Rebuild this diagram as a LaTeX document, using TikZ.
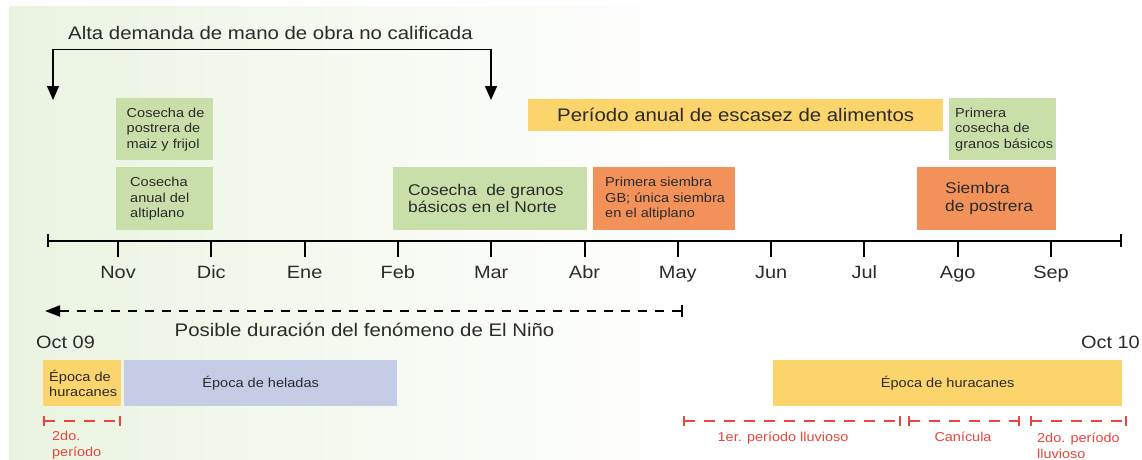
\documentclass[tikz,border=0pt]{standalone}
\usepackage{fontspec}
\setmainfont[FakeStretch=1.12]{Liberation Sans}
\usetikzlibrary{arrows.meta,positioning}

\definecolor{bggreen}{HTML}{EAF3E0}
\definecolor{cosgreen}{HTML}{C9DFAA}
\definecolor{siemorange}{HTML}{F2925A}
\definecolor{epyellow}{HTML}{FBD46C}
\definecolor{helblue}{HTML}{C5CDE6}
\definecolor{txtgray}{HTML}{2B2B2B}
\definecolor{rainred}{HTML}{E8453C}

\begin{document}
\begin{tikzpicture}[
  x=1pt, y=-1pt,
  every node/.style={inner sep=0pt, text=txtgray},
  block/.style 2 args={anchor=north west, minimum width=#1, minimum height=#2},
  boxtext/.style={anchor=west, align=left, font=\fontsize{13}{15.5}\selectfont},
  bigtext/.style={anchor=west, align=left, font=\fontsize{15.5}{17.5}\selectfont},
  bigfont/.style={font=\fontsize{18.2}{20}\selectfont},
  month/.style={anchor=base, font=\fontsize{17.8}{20}\selectfont},
  rain/.style={draw=rainred, line width=1.6pt, dash pattern=on 11pt off 9pt,
    {Bar[width=10pt]}-{Bar[width=10pt]}},
  raintext/.style={text=rainred, align=left, font=\fontsize{12.9}{15.5}\selectfont}
]
\useasboundingbox (0,0) rectangle (1142,460);
\fill[white] (0,0) rectangle (1142,460);
\shade[left color=bggreen, right color=white, middle color=bggreen!45] (9,7) rectangle (700,460);

% title and bracket arrow
\node[bigfont, anchor=base west] (demanda) at (68,39.5) {Alta demanda de mano de obra no calificada};
\coordinate (dL) at (53,100);
\coordinate (dR) at (491,100);
\draw[line width=1.4pt, {Triangle[length=14pt,width=12pt]}-{Triangle[length=14pt,width=12pt]}]
  (dL) -- ++(0,-50.5) -| (dR);

% upper row of boxes
\node[block={97pt}{62pt}, fill=cosgreen] (cosPost) at (116,98) {};
\node[boxtext, right=10.5pt of cosPost.west] (cosPostTxt) {Cosecha de\\postrera de\\maiz y frijol};
\node[block={107pt}{62pt}, fill=cosgreen] (priCos) at (949,98) {};
\node[boxtext, right=6pt of priCos.west] (priCosTxt) {Primera\\cosecha de\\granos básicos};
\node[block={415pt}{32pt}, fill=epyellow, bigfont] (escasez) at (528,99) {Período anual de escasez de alimentos};

% lower row of boxes
\node[block={97pt}{63pt}, fill=cosgreen] (cosAlt) at (116,167) {};
\node[boxtext, right=14pt of cosAlt.west] (cosAltTxt) {Cosecha\\anual del\\altiplano};
\node[block={194pt}{63pt}, fill=cosgreen] (cosNorte) at (393,167) {};
\node[bigtext, right=15pt of cosNorte.west] (cosNorteTxt) {Cosecha\ \ de granos\\básicos en el Norte};
\node[block={142pt}{63pt}, fill=siemorange] (priSiem) at (593,167) {};
\node[boxtext, right=12pt of priSiem.west] (priSiemTxt) {Primera siembra\\GB; única siembra\\en el altiplano};
\node[block={139pt}{63pt}, fill=siemorange] (siemPost) at (917,167) {};
\node[bigtext, right=28pt of siemPost.west] (siemPostTxt) {Siembra\\de postrera};

% time axis
\coordinate (axL) at (47,240.5);
\coordinate (axR) at (1122,240.5);
\draw[line width=2pt, {Bar[width=13pt]}-{Bar[width=13pt]}] (axL) -- (axR);
\foreach \m [count=\i from 0] in {Nov,Dic,Ene,Feb,Mar,Abr,May,Jun,Jul,Ago,Sep} {
  \coordinate (t\i) at ({118+93.3*\i},240.5);
  \draw[line width=2pt] (t\i) -- ++(0,16);
  \node[month] (m\i) at ({118+93.3*\i},278) {\m};
}

% El Nino
\coordinate (ninoL) at (45,311);
\coordinate (ninoR) at (683,311);
\draw[line width=2pt, dash pattern=on 9pt off 8pt,
  {Triangle[length=15pt,width=11pt]}-{Bar[width=12pt]}] (ninoL) -- (ninoR);
\node[bigfont, anchor=base] (nino) at (364.5,336.5) {Posible duración del fenómeno de El Niño};
\node[month, anchor=base west] (oct09) at (36,348.5) {Oct 09};
\node[month, anchor=base east] (oct10) at (1140,348.5) {Oct 10};

% seasons
\node[block={78pt}{46pt}, fill=epyellow] (hur1) at (43,360) {};
\node[boxtext, right=6pt of hur1.west] (hur1Txt) {Época de\\huracanes};
\node[block={273pt}{46pt}, fill=helblue, font=\fontsize{13}{15.5}\selectfont] (helada) at (124,360) {Época de heladas};
\node[block={349pt}{46pt}, fill=epyellow, font=\fontsize{13}{15.5}\selectfont] (hur2) at (773,360) {Época de huracanes};

% rainy periods
\coordinate (r1a) at (43,421);   \coordinate (r1b) at (121,421);
\coordinate (r2a) at (683,421);  \coordinate (r2b) at (901,421);
\coordinate (r3a) at (908,421);  \coordinate (r3b) at (1020,421);
\coordinate (r4a) at (1030,421); \coordinate (r4b) at (1127,421);
\draw[rain] (r1a) -- (r1b);
\draw[rain] (r2a) -- (r2b);
\draw[rain] (r3a) -- (r3b);
\draw[rain] (r4a) -- (r4b);
\node[raintext, anchor=west] (segundo1) at (52,445) {2do.\\período};
\node[raintext, anchor=base] (primero) at (783,441) {1er. período lluvioso};
\node[raintext, anchor=base] (canicula) at (963,441) {Canícula};
\node[raintext, anchor=west] (segundo2) at (1037,446) {2do. período\\lluvioso};
\end{tikzpicture}
\end{document}
